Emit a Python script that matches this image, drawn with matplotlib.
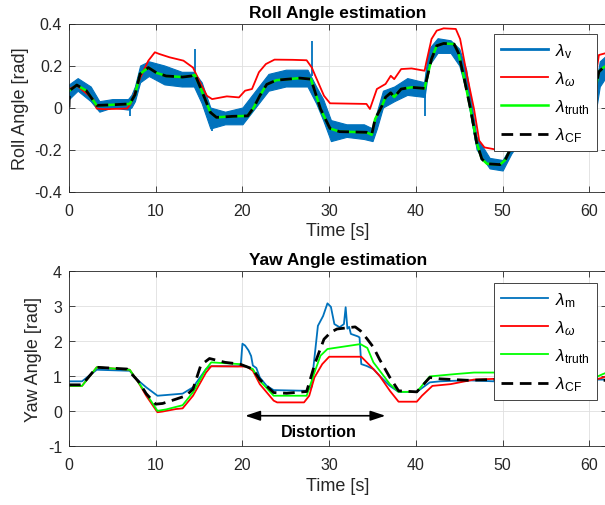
import matplotlib
matplotlib.use('Agg')
import matplotlib.pyplot as plt
import numpy as np

plt.rcParams['font.family'] = ['Liberation Sans', 'DejaVu Sans']
plt.rcParams['mathtext.fontset'] = 'custom'
plt.rcParams['mathtext.rm'] = 'Liberation Sans'
plt.rcParams['mathtext.it'] = 'Liberation Sans:italic'
plt.rcParams['axes.unicode_minus'] = False

# ---------------- roll angle data ----------------
t_roll_cf = [0, 0.05, 0.9, 2.0, 3.2, 4.5, 7.0, 7.6, 8.2, 9.15, 10.1, 11.2, 13.1, 14.1, 14.5, 15.0,
             16.3, 17.0, 18.9, 20.6, 21.3, 22.0, 22.8, 23.9, 26.6, 27.9, 29.0, 30.1, 31.2, 34.3,
             34.9, 35.3, 36.1, 36.5, 37.1, 37.5, 38.3, 39.5, 41.0, 41.2, 41.8, 42.4, 43.2, 44.4,
             44.9, 45.5, 46.3, 47.0, 47.6, 48.2, 49.7, 50.3, 50.9, 53, 57, 60.0, 60.7, 61.1, 61.6, 62]
roll_cf = [0, 0.08, 0.107, 0.08, 0.01, 0.012, 0.017, 0.06, 0.16, 0.19, 0.165, 0.15, 0.145, 0.15, 0.16, 0.11,
           -0.023, -0.047, -0.042, -0.04, 0.0, 0.056, 0.11, 0.13, 0.14, 0.135, -0.007, -0.1, -0.115, -0.118,
           -0.13, -0.055, 0.009, 0.049, 0.07, 0.05, 0.088, 0.096, 0.091, 0.127, 0.231, 0.294, 0.305, 0.302,
           0.26, 0.151, -0.007, -0.166, -0.245, -0.268, -0.272, -0.25, -0.198, -0.1, 0.0, 0.05, 0.088, 0.17, 0.19, 0.2]
roll_truth = [0.08, 0.08, 0.107, 0.08, 0.01, 0.012, 0.017, 0.06, 0.16, 0.19, 0.165, 0.15, 0.145, 0.15, 0.155, 0.11,
              -0.023, -0.047, -0.042, -0.04, 0.0, 0.056, 0.11, 0.13, 0.14, 0.135, -0.007, -0.1, -0.115, -0.118,
              -0.13, -0.055, 0.009, 0.049, 0.07, 0.05, 0.088, 0.096, 0.091, 0.127, 0.231, 0.294, 0.305, 0.302,
              0.26, 0.151, -0.007, -0.166, -0.245, -0.268, -0.272, -0.25, -0.198, -0.1, 0.0, 0.05, 0.088, 0.17, 0.19, 0.2]

t_roll_w = [0, 0.9, 2.8, 3.2, 4.0, 6.7, 7.1, 8.2, 9.15, 9.9, 10.4, 11.6, 13.2, 14.0, 14.3, 15.1, 15.9, 16.5,
            18.2, 19.6, 20.3, 21.1, 21.9, 22.7, 23.7, 25.8, 27.4, 28.0, 28.4, 29.4, 30.1, 34.3, 34.7, 35.5,
            36.5, 37.1, 37.5, 38.3, 39.5, 41.0, 41.2, 41.8, 42.4, 43.2, 44.6, 45.1, 45.9, 46.7, 47.3, 47.9,
            49.2, 50.6, 53, 57, 60.0, 60.7, 61.1, 62]
roll_w = [0.088, 0.105, 0.04, -0.005, -0.008, -0.005, 0.017, 0.14, 0.223, 0.263, 0.255, 0.239, 0.223, 0.199,
          0.19, 0.12, 0.056, 0.04, 0.053, 0.048, 0.08, 0.088, 0.168, 0.207, 0.228, 0.227, 0.225, 0.19, 0.151,
          0.056, 0.02, 0.017, -0.007, 0.088, 0.112, 0.151, 0.135, 0.183, 0.186, 0.175, 0.215, 0.326, 0.366,
          0.377, 0.374, 0.326, 0.151, -0.007, -0.158, -0.19, -0.2, -0.205, -0.1, 0.0, 0.1, 0.14, 0.25, 0.26]

# lambda_v is a noisy signal: its band (lower / upper envelope) plus its spikes
t_roll_v = [0, 1.0, 2.5, 3.5, 5.0, 6.8, 7.2, 7.6, 8.2, 9.2, 11.0, 13.0, 14.4, 15.3, 16.3, 18.0, 20.0, 21.5,
            23.0, 25.0, 27.5, 28.5, 29.3, 30.2, 32.0, 34.0, 35.0, 35.5, 36.2, 37.5, 39.0, 41.0, 41.5, 42.5,
            44.0, 45.0, 45.8, 47.0, 48.5, 50.0, 51.0, 53, 57, 60.0, 60.7, 61.2, 62]
roll_v_low = [0.04, 0.08, 0.03, -0.02, 0.0, -0.01, 0.0, 0.03, 0.12, 0.15, 0.11, 0.1, 0.1, 0.02, -0.1, -0.08,
              -0.08, 0.0, 0.08, 0.1, 0.1, 0.02, -0.06, -0.16, -0.14, -0.15, -0.16, -0.1, 0.0, 0.03, 0.06,
              0.05, 0.2, 0.26, 0.26, 0.2, 0.08, -0.2, -0.29, -0.3, -0.22, -0.1, 0.0, 0.0, -0.03, 0.1, 0.15]
roll_v_high = [0.11, 0.14, 0.1, 0.03, 0.04, 0.04, 0.06, 0.1, 0.2, 0.22, 0.2, 0.17, 0.17, 0.12, 0.0, -0.02,
               0.0, 0.08, 0.16, 0.18, 0.18, 0.1, 0.04, -0.06, -0.08, -0.08, -0.1, -0.02, 0.08, 0.1, 0.14,
               0.12, 0.28, 0.33, 0.32, 0.28, 0.18, -0.14, -0.24, -0.25, -0.18, 0.0, 0.1, 0.1, 0.1, 0.22, 0.25]
spike_t = [7.0, 14.55, 16.5, 28.0, 41.0]
spike_base = [0.02, 0.15, -0.05, 0.15, 0.09]
spike_v = [-0.04, 0.28, -0.11, 0.315, -0.04]

# ---------------- yaw angle data ----------------
t_yaw_m = [0, 1.5, 3.2, 7.0, 7.8, 8.9, 10.2, 11.2, 13.1, 14.3, 15.8, 16.4, 19.5, 19.8, 20.0, 20.3, 20.7,
           21.0, 21.2, 21.6, 22.0, 22.8, 23.6, 27.4, 28.0, 28.2, 28.7, 29.3, 29.8, 30.2, 30.6, 31.2, 31.7,
           31.9, 32.1, 32.3, 32.5, 33.3, 33.5, 33.7, 34.3, 35.1, 35.8, 37.0, 38.0, 40.1, 41.6, 42.8, 45.9,
           49.0, 53, 57, 61, 62]
yaw_m = [0.85, 0.85, 1.18, 1.15, 0.91, 0.68, 0.44, 0.46, 0.5, 0.68, 1.2, 1.28, 1.28, 1.3, 1.92, 1.87, 1.73,
         1.57, 1.3, 1.23, 0.96, 0.72, 0.6, 0.58, 0.7, 1.29, 2.43, 2.71, 3.07, 2.97, 2.48, 2.39, 2.48,
         2.96, 2.35, 2.4, 2.2, 2.13, 2.1, 1.34, 1.29, 1.2, 1.01, 0.72, 0.55, 0.55, 0.82, 0.85, 0.88,
         0.85, 0.9, 0.9, 0.9, 0.9]

t_yaw_w = [0, 1.5, 3.2, 7.0, 8.0, 8.9, 10.2, 10.8, 12.3, 13.1, 14.3, 15.8, 16.4, 20.5, 21.2, 22.0, 23.6,
           24.0, 27.1, 27.7, 28.3, 29.2, 30.0, 33.7, 34.9, 35.8, 37.0, 38.0, 40.1, 40.7, 41.9, 44.0, 46.7,
           49.0, 53, 57, 60.7, 61.5, 62]
yaw_w = [0.72, 0.72, 1.25, 1.18, 0.82, 0.44, -0.03, -0.01, 0.06, 0.08, 0.44, 1.1, 1.28, 1.27, 1.15, 0.77,
         0.3, 0.25, 0.25, 0.44, 0.96, 1.34, 1.55, 1.55, 1.25, 1.01, 0.58, 0.27, 0.27, 0.44, 0.72, 0.77,
         0.9, 0.92, 0.9, 0.9, 0.9, 0.95, 1.0]

t_yaw_truth = [0, 1.5, 3.2, 7.0, 8.9, 10.2, 11.2, 13.1, 14.3, 15.8, 16.4, 19.7, 21.2, 22.0, 23.6, 27.4,
               28.3, 29.0, 29.8, 33.6, 34.4, 35.1, 37.0, 38.0, 40.1, 41.6, 44.7, 46.7, 49.0, 53, 57,
               60.7, 61.5, 62]
yaw_truth = [0.72, 0.72, 1.25, 1.18, 0.5, 0.01, 0.05, 0.17, 0.54, 1.2, 1.39, 1.34, 1.2, 0.87, 0.44, 0.44,
             1.1, 1.58, 1.77, 1.91, 1.8, 1.39, 0.77, 0.55, 0.55, 0.99, 1.06, 1.1, 1.1, 1.0, 1.0,
             0.96, 1.05, 1.1]

t_yaw_cf = [0, 1.5, 3.2, 6.7, 8.0, 8.9, 10.0, 10.8, 12.3, 13.5, 14.3, 15.2, 16.2, 18.0, 19.7, 21.2, 22.0,
            23.6, 25.1, 27.4, 28.4, 29.4, 30.2, 30.9, 33.0, 33.6, 34.4, 35.1, 35.8, 37.0, 38.0, 40.1,
            41.6, 42.8, 45.9, 49.0, 53, 57, 60.7, 62]
yaw_cf = [0.75, 0.75, 1.25, 1.2, 0.85, 0.5, 0.2, 0.22, 0.34, 0.44, 0.63, 1.31, 1.5, 1.39, 1.34, 1.2, 0.9,
          0.53, 0.51, 0.56, 1.39, 2.05, 2.25, 2.34, 2.4, 2.29, 2.05, 1.82, 1.48, 0.96, 0.58, 0.55,
          0.96, 0.92, 0.88, 0.9, 0.88, 0.87, 0.87, 0.88]

BLUE = '#0072BD'
GRAY = '#262626'
DASH = (0, (4.2, 2.4))

fig = plt.figure(figsize=(6.05, 5.06), dpi=100)
W, H = 605.0, 506.0
ax1 = fig.add_axes([69 / W, 1 - 192.5 / H, 537.7 / W, 168 / H])
ax2 = fig.add_axes([69 / W, 1 - 447.3 / H, 537.7 / W, 175.6 / H])


def style(ax):
    ax.set_xlim(0, 62)
    ax.set_xticks(range(0, 61, 10))
    ax.grid(True, color='#dfdfdf', linewidth=0.6)
    ax.set_axisbelow(True)
    ax.tick_params(direction='in', top=True, right=True, length=4, width=0.6,
                   labelsize=11.5, colors=GRAY)
    ax.tick_params(axis='x', pad=8)
    ax.tick_params(axis='y', pad=5)
    for s in ax.spines.values():
        s.set_color(GRAY)
        s.set_linewidth(0.6)
    ax.set_xlabel('Time [s]', fontsize=13, color=GRAY, labelpad=3)


# roll
ax1.fill_between(t_roll_v, roll_v_low, roll_v_high, color=BLUE, linewidth=0.8)
ax1.vlines(spike_t, spike_base, spike_v, color=BLUE, linewidth=1.3)
ax1.plot(t_roll_v, [(a + b) / 2 for a, b in zip(roll_v_low, roll_v_high)], color=BLUE, lw=2,
         label=r'$\lambda_{\rm v}$')
ax1.plot(t_roll_w, roll_w, color='#FF0000', lw=1.3, label=r'$\lambda_{\omega}$')
ax1.plot(t_roll_cf, roll_truth, color='#00FF00', lw=1.8, label=r'$\lambda_{\rm truth}$')
ax1.plot(t_roll_cf, roll_cf, color='black', lw=2, linestyle=DASH, label=r'$\lambda_{\rm CF}$')
ax1.set_ylim(-0.4, 0.4)
ax1.set_yticks([-0.4, -0.2, 0, 0.2, 0.4])
ax1.set_yticklabels(['-0.4', '-0.2', '0', '0.2', '0.4'])
style(ax1)
ax1.set_ylabel('Roll Angle [rad]', fontsize=13, color=GRAY)
ax1.yaxis.set_label_coords(-0.074, 0.5)
ax1.set_title('Roll Angle estimation', fontsize=12.5, fontweight='bold', pad=5)

# yaw
ax2.plot(t_yaw_m, yaw_m, color=BLUE, lw=1.3, label=r'$\lambda_{\rm m}$')
ax2.plot(t_yaw_w, yaw_w, color='#FF0000', lw=1.3, label=r'$\lambda_{\omega}$')
ax2.plot(t_yaw_truth, yaw_truth, color='#00FF00', lw=1.3, label=r'$\lambda_{\rm truth}$')
ax2.plot(t_yaw_cf, yaw_cf, color='black', lw=2, linestyle=DASH, label=r'$\lambda_{\rm CF}$')
ax2.set_ylim(-1, 4)
ax2.set_yticks(range(-1, 5))
style(ax2)
ax2.set_ylabel('Yaw Angle [rad]', fontsize=13, color=GRAY)
ax2.yaxis.set_label_coords(-0.05, 0.5)
ax2.set_title('Yaw Angle estimation', fontsize=12.5, fontweight='bold', pad=5)

ax2.annotate('', xy=(20.0, -0.13), xytext=(36.8, -0.13),
             arrowprops=dict(arrowstyle='<|-|>,head_length=0.9,head_width=0.3', color='black', lw=1.2))
ax2.text(28.75, -0.59, 'Distortion', fontsize=11.5, fontweight='bold', ha='center', va='center')

for ax, y0 in ((ax1, 35), (ax2, 284)):
    leg = ax.legend(loc='upper left', bbox_to_anchor=(494 / W, 1 - y0 / H), bbox_transform=fig.transFigure,
                    borderaxespad=0, fontsize=12.5, frameon=True, fancybox=False, framealpha=1,
                    handlelength=2.7, labelspacing=0.55, handletextpad=0.4, borderpad=0.4)
    leg.get_frame().set_edgecolor(GRAY)
    leg.get_frame().set_linewidth(0.6)

fig.savefig('out.png', dpi=100)
